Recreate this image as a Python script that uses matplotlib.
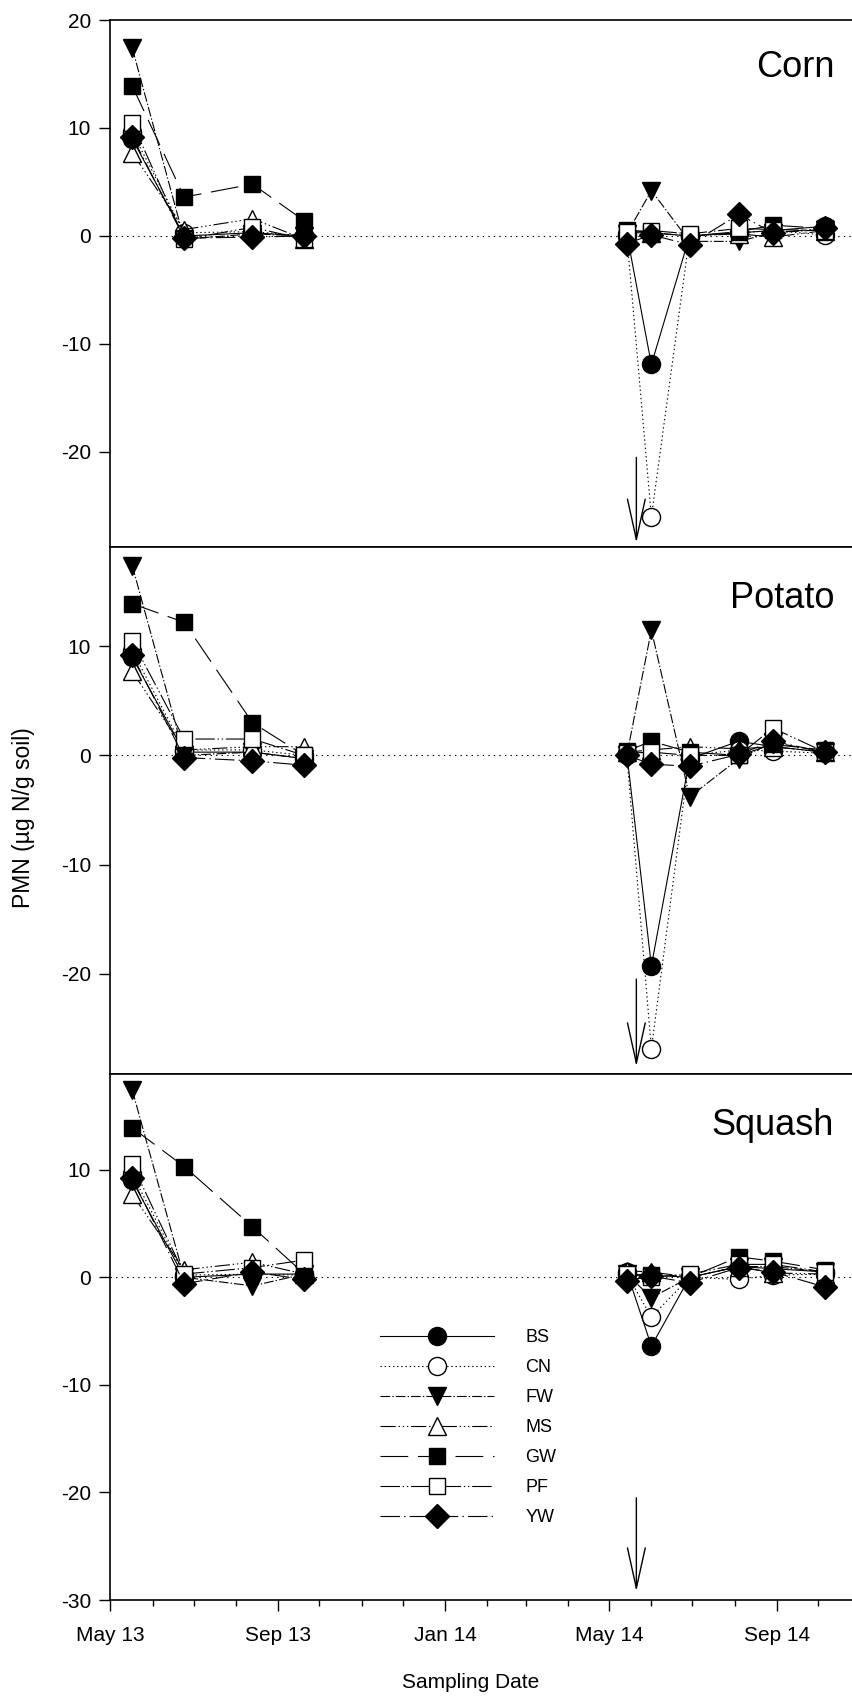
import numpy as np
import pandas as pd
import matplotlib
matplotlib.use('Agg')
import matplotlib.pyplot as plt
import matplotlib.dates as mdates

plt.rcParams['font.family'] = ['Liberation Sans', 'DejaVu Sans']
plt.rcParams['lines.scale_dashes'] = False
plt.rcParams['axes.unicode_minus'] = False

# sampling dates (two seasons, gap over winter)
dates = pd.to_datetime(['2013-05-17', '2013-06-24', '2013-08-13', '2013-09-20',
                        '2014-05-14', '2014-06-01', '2014-06-29', '2014-08-04',
                        '2014-08-29', '2014-10-06'])
treatments = ['BS', 'CN', 'FW', 'MS', 'GW', 'PF', 'YW']
crops = ['Corn', 'Potato', 'Squash']

corn = {
    'BS': [9.0, 0.0, 0.3, 0.0, 0.2, -11.9, 0.0, 0.3, 0.5, 0.9],
    'CN': [9.6, 0.3, 0.4, 0.0, 0.0, -26.0, 0.0, 0.3, 0.5, 0.1],
    'FW': [17.4, -0.3, 0.2, 0.0, 0.2, 4.2, -0.5, -0.5, 0.3, 0.6],
    'MS': [7.7, 0.6, 1.6, -0.3, 0.3, 0.3, 0.0, 0.2, -0.1, 0.5],
    'GW': [13.9, 3.6, 4.8, 1.4, 0.6, 0.3, 0.0, 0.4, 1.0, 0.7],
    'PF': [10.5, -0.3, 0.8, -0.3, 0.4, 0.5, 0.2, 0.7, 0.6, 0.5],
    'YW': [9.2, -0.2, -0.1, 0.0, -0.7, 0.1, -0.8, 2.0, 0.3, 0.7],
}
potato = {
    'BS': [9.0, 0.3, 0.3, -0.3, 0.2, -19.3, -0.3, 1.3, 0.8, 0.3],
    'CN': [9.6, 0.5, 0.5, 0.0, 0.0, -26.9, 0.0, 0.5, 0.4, 0.2],
    'FW': [17.4, 0.0, 0.3, -0.3, 0.0, 11.5, -3.8, -0.3, 1.2, 0.3],
    'MS': [7.7, 0.5, 0.8, 0.8, 0.3, 0.5, 0.8, 0.6, 0.8, 0.3],
    'GW': [13.9, 12.2, 3.0, 0.0, 0.4, 1.3, 0.3, 0.0, 1.0, 0.5],
    'PF': [10.5, 1.5, 1.5, 0.0, 0.2, 0.3, 0.0, 0.0, 2.5, 0.3],
    'YW': [9.2, -0.2, -0.5, -0.9, 0.0, -0.8, -1.0, 0.1, 1.3, 0.3],
}
squash = {
    'BS': [9.0, 0.0, 0.3, 0.3, 0.5, -6.4, 0.0, 1.0, 0.8, 0.5],
    'CN': [9.6, 0.2, 0.3, 0.2, 0.3, -3.7, 0.0, -0.2, 0.2, 0.3],
    'FW': [17.4, 0.0, -0.8, 0.3, 0.3, -1.9, 0.0, 1.0, 1.0, 0.5],
    'MS': [7.7, 0.7, 1.4, 0.3, 0.6, 0.5, 0.0, 1.0, 0.4, 0.3],
    'GW': [13.9, 10.3, 4.7, 0.3, 0.3, 0.2, 0.0, 1.9, 1.5, 0.7],
    'PF': [10.5, 0.3, 0.9, 1.6, 0.3, 0.0, 0.3, 1.2, 1.2, 0.5],
    'YW': [9.2, -0.6, 0.5, -0.2, -0.3, 0.1, -0.5, 0.9, 0.5, -0.9],
}
panel_data = [corn, potato, squash]
ylims = [(-28.8, 20), (-29.2, 19.1), (-30, 18.9)]

# arrow (date of event) drawn in each panel
arrow_date = pd.Timestamp('2014-05-21')
arrow_from = [-20.5, -20.5, -20.5]
arrow_to = [-28.4, -28.5, -29.2]

styles = {
    'BS': dict(ls='-', marker='o', mfc='black', ms=13),
    'CN': dict(ls=(0, (1, 2)), marker='o', mfc='white', ms=13),
    'FW': dict(ls=(0, (7, 1.5, 1, 1.5)), marker='v', mfc='black', ms=13),
    'MS': dict(ls=(0, (11, 2, 1, 2, 1, 2, 1, 2)), marker='^', mfc='white', ms=13),
    'GW': dict(ls=(0, (20, 7)), marker='s', mfc='black', ms=12),
    'PF': dict(ls=(0, (14, 2, 1, 2, 1, 2)), marker='s', mfc='white', ms=12),
    'YW': dict(ls=(0, (14, 3, 1, 3)), marker='D', mfc='black', ms=12),
}

W, H = 853, 1698
fig = plt.figure(figsize=(W / 100, H / 100), dpi=100)

x0 = 110.4 / W
xw = 750.0 / W
tops = [20, 547, 1074]
bots = [547, 1074, 1600]
title_off = [47, 51.5, 51.5]

xmin = pd.Timestamp('2013-05-01')
xmax = pd.Timestamp('2014-11-01')

axes = []
for i, crop in enumerate(crops):
    ph = bots[i] - tops[i]
    ax = fig.add_axes([x0, 1 - bots[i] / H, xw, ph / H])
    axes.append(ax)
    data = panel_data[i]
    for t in treatments:
        st = styles[t]
        vals = np.array(data[t])
        for seg, lab in [(slice(0, 4), t), (slice(4, 10), None)]:
            ax.plot(dates[seg], vals[seg], color='black', lw=0.8,
                    ls=st['ls'], marker=st['marker'], ms=st['ms'],
                    mfc=st['mfc'], mec='black', mew=1.0, label=lab,
                    clip_on=False)
    ax.axhline(0, color='black', lw=0.8, ls=(0, (1, 3)), zorder=0)
    ax.annotate('', xy=(arrow_date, arrow_to[i]), xytext=(arrow_date, arrow_from[i]),
                arrowprops=dict(arrowstyle='->, head_length=1.45, head_width=0.32',
                                mutation_scale=20, color='black', lw=1.0,
                                shrinkA=0, shrinkB=0))
    ax.set_xlim(xmin, xmax)
    ax.set_yticks([-30, -20, -10, 0, 10, 20])
    ax.set_ylim(*ylims[i])
    ax.tick_params(axis='y', direction='out', length=8, width=1.0,
                   labelsize=15, pad=6)
    ax.text(0.965, 1 - title_off[i] / ph, crop, transform=ax.transAxes,
            ha='right', va='center', fontsize=26)
    for sp in ax.spines.values():
        sp.set_linewidth(1.2)
    ax.xaxis.set_major_locator(mdates.MonthLocator(bymonth=[1, 5, 9]))
    ax.xaxis.set_minor_locator(mdates.MonthLocator())
    ax.xaxis.set_major_formatter(mdates.DateFormatter('%b %y'))
    if i < 2:
        ax.tick_params(axis='x', which='both', bottom=False, labelbottom=False)
    else:
        ax.tick_params(axis='x', which='major', direction='out', length=8,
                       width=1.0, labelsize=15, pad=11)
        ax.tick_params(axis='x', which='minor', direction='out', length=4,
                       width=1.0)

leg = axes[2].legend(loc='upper left',
                     bbox_to_anchor=((380 - 110.4) / 750, (1600 - 1329) / 526),
                     frameon=False, fontsize=13, handlelength=6.3,
                     handletextpad=1.75, labelspacing=0.72, numpoints=1,
                     borderaxespad=0, borderpad=0)

fig.text(24 / W, 1 - 818 / H, 'PMN (µg N/g soil)', rotation=90,
         ha='center', va='center', fontsize=16.5)
fig.text(471 / W, 1 - 1683 / H, 'Sampling Date', ha='center', va='center',
         fontsize=15)

fig.savefig('out.png', dpi=100)
